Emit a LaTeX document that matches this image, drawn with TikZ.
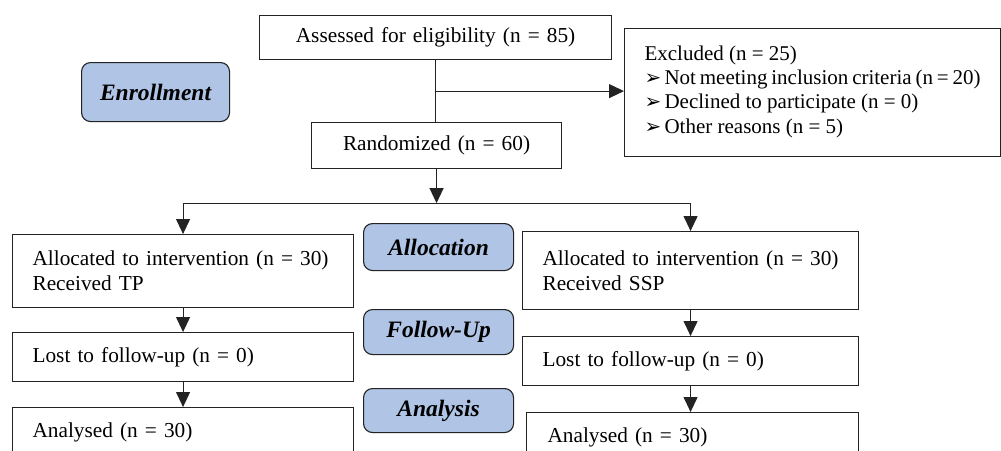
\documentclass[tikz,border=0pt]{standalone}
\usepackage{fontspec}
\setmainfont{Liberation Serif}
\newfontfamily\dingfont{DejaVu Sans}
\usetikzlibrary{arrows.meta}
\definecolor{stagefill}{RGB}{176,196,230}
\definecolor{linegray}{RGB}{35,35,35}
\newcommand{\exbullet}{\makebox[20pt][l]{\dingfont\fontsize{20}{20}\selectfont ➢}}
\tikzset{
	box/.style={draw=linegray, line width=1.1pt, anchor=north west, inner xsep=20pt, inner ysep=0pt, align=left, font=\fontsize{21.3}{25}\selectfont},
	stage/.style={draw=linegray, line width=1.1pt, fill=stagefill, rounded corners=9pt, anchor=north west, font=\fontsize{23.5}{26}\selectfont\bfseries\itshape},
	conn/.style={draw=linegray, line width=1.1pt, -{Triangle[length=15pt,width=14pt]}},
	line/.style={draw=linegray, line width=1.1pt}
}
\begin{document}
\begin{tikzpicture}[x=1pt,y=-1pt]
	\useasboundingbox (0,0) rectangle (1001,450);
	\clip (0,0) rectangle (1001,450);
	\node[box, minimum width=352pt, minimum height=44pt, text width=312pt, align=center] (assess) at (259,15) {Assessed for eligibility (n = 85)};
	\node[stage, minimum width=148pt, minimum height=59pt] (enroll) at (81,62) {Enrollment};
	\node[box, inner xsep=20pt, inner ysep=17pt, font=\fontsize{21}{24.3}\selectfont] (excl) at (624,28) {\parbox[t][94pt][t]{336pt}{Excluded (n = 25)\\
		\exbullet Not meeting inclusion criteria (n = 20)\\
		\exbullet Declined to participate (n = 0)\\
		\exbullet Other reasons (n = 5)}};
	\node[box, minimum width=250pt, minimum height=46pt, text width=210pt, align=center] (rand) at (311,122) {Randomized (n = 60)};
	\node[box, minimum width=341pt, minimum height=73pt, text width=301pt] (allocL) at (12,234) {Allocated to intervention (n = 30)\\Received TP};
	\node[stage, minimum width=150pt, minimum height=47pt] (alloc) at (363,223) {Allocation};
	\node[box, minimum width=336pt, minimum height=78pt, text width=296pt] (allocR) at (522,231) {Allocated to intervention (n = 30)\\Received SSP};
	\node[box, minimum width=341pt, minimum height=49pt, text width=301pt] (lostL) at (12,332) {Lost to follow-up (n = 0)};
	\node[stage, minimum width=150pt, minimum height=45pt] (follow) at (363,309) {Follow-Up};
	\node[box, minimum width=336pt, minimum height=49pt, text width=296pt] (lostR) at (522,336) {Lost to follow-up (n = 0)};
	\node[box, minimum width=341pt, minimum height=49pt, text width=301pt] (anaL) at (12,407) {Analysed (n = 30)};
	\node[stage, minimum width=150pt, minimum height=44pt] (analysis) at (363,388) {Analysis};
	\node[box, minimum width=332pt, minimum height=49pt, text width=290pt, inner xsep=21pt] (anaR) at (526,412) {Analysed (n = 30)};
	\path (assess.south) ++(0,31) coordinate (split);
	\path (rand.south) ++(0,34) coordinate (branch);
	\draw[line] (assess.south) -- (assess.south |- rand.north);
	\draw[conn] (split) -- (split -| excl.west);
	\draw[conn] (rand.south) -- (branch);
	\draw[conn] (branch) -| (allocL.north);
	\draw[conn] (branch) -| (allocR.north);
	\draw[conn] (allocL.south) -- (lostL.north);
	\draw[conn] (lostL.south) -- (lostL.south |- anaL.north);
	\draw[conn] (allocR.south) -- (lostR.north);
	\draw[conn] (lostR.south) -- (lostR.south |- anaR.north);
\end{tikzpicture}
\end{document}
